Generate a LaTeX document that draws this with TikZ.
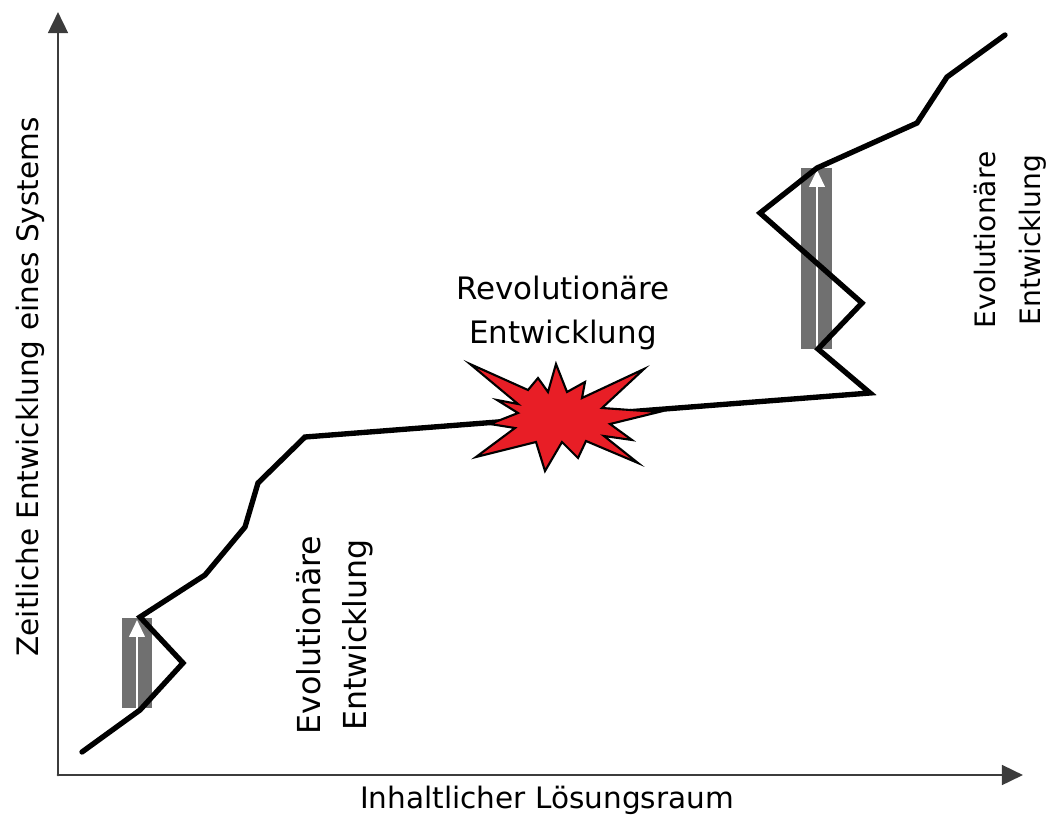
\documentclass[tikz,border=0pt]{standalone}
\usepackage{fontspec}
\setmainfont{DejaVu Sans}
\usetikzlibrary{arrows.meta}

\definecolor{starred}{RGB}{232,30,38}
\definecolor{bargray}{RGB}{112,112,112}
\definecolor{axisgray}{RGB}{60,60,60}

\tikzset{
  axis/.style={line width=2pt, draw=axisgray, -{Triangle[length=15pt,width=14pt]}},
  curve/.style={line width=3.8pt, line join=miter},
  jumpbar/.style={fill=bargray, draw=none},
  jumparrow/.style={draw=white, line width=1.6pt, -{Triangle[length=12pt,width=11pt]}},
  label/.style={font=\fontsize{21}{31}\selectfont, align=center, inner sep=0pt}
}

\begin{document}
\begin{tikzpicture}[
  x=0.025cm,
  y=-0.025cm,
  line cap=round,
  line join=round
]
  \useasboundingbox (0,0) rectangle (1058,822);

  \coordinate (O) at (58,775);
  \coordinate (Ytip) at (58,12);
  \coordinate (Xtip) at (1023,775);

  % Achsen
  \draw[axis] (O) -- (Ytip);
  \draw[axis] (O) -- (Xtip);

  % Sprung-Balken
  \fill[jumpbar] (122,618) rectangle (152,708);
  \fill[jumpbar] (801,168) rectangle (832,349);
  \draw[jumparrow] (137,708) -- (137,620);
  \draw[jumparrow] (817,349) -- (817,170);

  % Entwicklungskurve
  \draw[curve]
    (82,752) -- (140,710) -- (183,663) -- (140,617)
    -- (205,575) -- (245,527) -- (258,483) -- (305,437)
    -- (870,393) -- (818,349) -- (862,303) -- (760,213)
    -- (817,168) -- (917,123) -- (947,77) -- (1005,35);

  % Explosion
  \filldraw[fill=starred, draw=black, line width=1.5pt, line join=miter]
    (470,364) -- (528,390) -- (538,378) -- (548,392) -- (556,364)
    -- (567,392) -- (585,382) -- (582,398) -- (644,369) -- (602,408)
    -- (659,412) -- (610,424) -- (632,440) -- (604,436) -- (638,463)
    -- (586,441) -- (578,458) -- (562,442) -- (545,471) -- (536,442)
    -- (476,457) -- (515,428) -- (490,424) -- (518,413) -- (497,400)
    -- (518,404) -- cycle;

  % Beschriftungen
  \node[label, rotate=90] (ylabel) at (30,387) {Zeitliche Entwicklung eines Systems};
  \node[label] (xlabel) at (547,800) {Inhaltlicher Lösungsraum};
  \node[label, font=\fontsize{22}{31}\selectfont] (revo) at (563,313) {Revolutionäre\\Entwicklung};
  \node[label, rotate=90, font=\fontsize{22.5}{33}\selectfont] (evoleft) at (335,635) {Evolutionäre\\Entwicklung};
  \node[label, rotate=90, font=\fontsize{20}{32}\selectfont] (evoright) at (1010,240) {Evolutionäre\\Entwicklung};
\end{tikzpicture}
\end{document}
